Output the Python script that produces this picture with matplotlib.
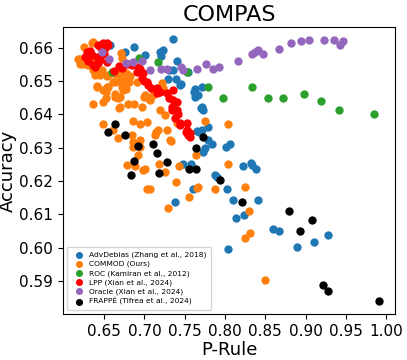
import matplotlib
matplotlib.use("Agg")
import matplotlib.pyplot as plt
import numpy as np

# P-Rule / Accuracy pairs
adv_x = [0.7349, 0.7192, 0.7233, 0.7210, 0.7006, 0.6869, 0.6757, 0.6571, 0.7407, 0.7307,
         0.7357, 0.7544, 0.7295, 0.7391, 0.7453, 0.7440, 0.7627, 0.7710, 0.7614, 0.7668,
         0.7627, 0.7710, 0.7722, 0.7701, 0.7655, 0.7710, 0.7792, 0.7680, 0.7792, 0.7834,
         0.7751, 0.7730, 0.8012, 0.8062, 0.7581, 0.7481, 0.8219, 0.8323, 0.8338, 0.8385,
         0.7875, 0.7904, 0.8021, 0.7606, 0.7378, 0.8095, 0.8413, 0.8132, 0.8239, 0.8600,
         0.8670, 0.8032, 0.8898, 0.9105, 0.9283]
adv_y = [0.6625, 0.6586, 0.6593, 0.6575, 0.6577, 0.6602, 0.6587, 0.6607, 0.6560, 0.6532,
         0.6534, 0.6528, 0.6505, 0.6505, 0.6490, 0.6488, 0.6477, 0.6482, 0.6467, 0.6458,
         0.6453, 0.6423, 0.6413, 0.6418, 0.6350, 0.6353, 0.6363, 0.6348, 0.6323, 0.6311,
         0.6298, 0.6288, 0.6303, 0.6311, 0.6251, 0.6251, 0.6245, 0.6255, 0.6248, 0.6235,
         0.6218, 0.6211, 0.6175, 0.6175, 0.6136, 0.6142, 0.6142, 0.6088, 0.6098, 0.6055,
         0.6051, 0.5996, 0.6001, 0.6016, 0.6038]

commod_x = [0.6177, 0.6198, 0.6198, 0.6240, 0.6282, 0.6345, 0.6303, 0.6247, 0.6343, 0.6363,
            0.6260, 0.6406, 0.6468, 0.6385, 0.6530, 0.6633, 0.6695, 0.6757, 0.6819, 0.6703,
            0.6716, 0.6674, 0.6707, 0.6777, 0.6446, 0.6550, 0.6363, 0.6446, 0.6612, 0.6633,
            0.6811, 0.6902, 0.7221, 0.6406, 0.6530, 0.6550, 0.6488, 0.6413, 0.6521, 0.6716,
            0.6770, 0.6719, 0.6777, 0.6728, 0.6633, 0.7233, 0.7006, 0.7047, 0.7109, 0.6633,
            0.6695, 0.6674, 0.6521, 0.6993, 0.6356, 0.6488, 0.6695, 0.6798, 0.6869, 0.6965,
            0.6686, 0.7068, 0.7192, 0.7254, 0.6860, 0.6943, 0.7027, 0.6488, 0.6604, 0.7751,
            0.8035, 0.7171, 0.7275, 0.7399, 0.6674, 0.6844, 0.6853, 0.6943, 0.7130, 0.7142,
            0.7316, 0.7324, 0.6860, 0.6944, 0.6922, 0.6885, 0.6778, 0.6977, 0.7009, 0.7639,
            0.8040, 0.7183, 0.7254, 0.7428, 0.7391, 0.7034, 0.7068, 0.7295, 0.7556, 0.7647,
            0.7668, 0.7875, 0.8247, 0.8301, 0.8310, 0.8247, 0.8496]
commod_y = [0.6565, 0.6550, 0.6567, 0.6551, 0.6558, 0.6563, 0.6548, 0.6603, 0.6613, 0.6617,
            0.6557, 0.6557, 0.6532, 0.6517, 0.6514, 0.6522, 0.6522, 0.6512, 0.6514, 0.6583,
            0.6570, 0.6528, 0.6510, 0.6523, 0.6518, 0.6518, 0.6533, 0.6530, 0.6497, 0.6498,
            0.6498, 0.6498, 0.6495, 0.6484, 0.6482, 0.6483, 0.6473, 0.6483, 0.6468, 0.6490,
            0.6477, 0.6483, 0.6488, 0.6473, 0.6462, 0.6478, 0.6458, 0.6448, 0.6458, 0.6453,
            0.6451, 0.6450, 0.6448, 0.6451, 0.6430, 0.6436, 0.6423, 0.6430, 0.6430, 0.6423,
            0.6418, 0.6443, 0.6413, 0.6398, 0.6380, 0.6370, 0.6378, 0.6370, 0.6353, 0.6380,
            0.6371, 0.6353, 0.6353, 0.6373, 0.6328, 0.6338, 0.6316, 0.6323, 0.6338, 0.6348,
            0.6323, 0.6320, 0.6303, 0.6303, 0.6278, 0.6246, 0.6248, 0.6233, 0.6235, 0.6278,
            0.6251, 0.6251, 0.6228, 0.6245, 0.6196, 0.6175, 0.6175, 0.6120, 0.6153, 0.6178,
            0.6181, 0.6175, 0.6181, 0.6110, 0.6045, 0.6028, 0.5903]

roc_x = [0.6600, 0.6930, 0.7170, 0.7523, 0.7790, 0.7978, 0.8330, 0.8537, 0.8715, 0.8985,
         0.9187, 0.9415, 0.9854]
roc_y = [0.6528, 0.6570, 0.6558, 0.6526, 0.6483, 0.6450, 0.6483, 0.6450, 0.6450, 0.6461,
         0.6440, 0.6413, 0.6401]

lpp_x = [0.6488, 0.6425, 0.6550, 0.6509, 0.6530, 0.6460, 0.6281, 0.6343, 0.6260, 0.6406,
         0.6447, 0.6363, 0.6530, 0.6300, 0.6320, 0.6384, 0.6420, 0.6500, 0.6624, 0.6716,
         0.6680, 0.6790, 0.6840, 0.6922, 0.6902, 0.6950, 0.6984, 0.6965, 0.7027, 0.7047,
         0.7000, 0.7080, 0.7151, 0.7192, 0.7150, 0.7275, 0.7357, 0.7357, 0.7399, 0.7337,
         0.7399, 0.7337, 0.7378, 0.7440, 0.7524, 0.7440, 0.7524, 0.7543, 0.7565, 0.7515,
         0.7565, 0.7420, 0.7300]
lpp_y = [0.6613, 0.6608, 0.6608, 0.6598, 0.6615, 0.6600, 0.6588, 0.6578, 0.6573, 0.6573,
         0.6563, 0.6548, 0.6558, 0.6560, 0.6590, 0.6543, 0.6555, 0.6580, 0.6530, 0.6538,
         0.6545, 0.6550, 0.6548, 0.6543, 0.6528, 0.6535, 0.6523, 0.6508, 0.6498, 0.6488,
         0.6500, 0.6480, 0.6478, 0.6468, 0.6463, 0.6463, 0.6473, 0.6443, 0.6438, 0.6423,
         0.6413, 0.6413, 0.6388, 0.6373, 0.6373, 0.6368, 0.6353, 0.6338, 0.6343, 0.6346,
         0.6333, 0.6400, 0.6450]

oracle_x = [0.6467, 0.6565, 0.6765, 0.6860, 0.6970, 0.7067, 0.7202, 0.7275, 0.7448, 0.7475,
            0.7647, 0.7770, 0.7855, 0.7930, 0.8156, 0.8330, 0.8372, 0.8413, 0.8475, 0.8672,
            0.8823, 0.8942, 0.9038, 0.9230, 0.9350, 0.9430, 0.9469]
oracle_y = [0.6586, 0.6565, 0.6554, 0.6556, 0.6559, 0.6533, 0.6537, 0.6537, 0.6543, 0.6532,
            0.6537, 0.6550, 0.6537, 0.6542, 0.6560, 0.6582, 0.6587, 0.6592, 0.6580, 0.6597,
            0.6614, 0.6619, 0.6624, 0.6624, 0.6624, 0.6607, 0.6619]

frappe_x = [0.6550, 0.6640, 0.6757, 0.6914, 0.6869, 0.6827, 0.7105, 0.7151, 0.7274, 0.7183,
            0.7552, 0.7635, 0.7643, 0.7730, 0.7937, 0.8210, 0.8790, 0.9084, 0.8927, 0.9212,
            0.9283, 0.9916]
frappe_y = [0.6348, 0.6370, 0.6337, 0.6305, 0.6261, 0.6219, 0.6310, 0.6283, 0.6256, 0.6224,
            0.6235, 0.6235, 0.6299, 0.6333, 0.6203, 0.6136, 0.6109, 0.6083, 0.6050, 0.5888,
            0.5871, 0.5839]

series = [
    (adv_x, adv_y, "tab:blue", "AdvDebias (Zhang et al., 2018)"),
    (commod_x, commod_y, "tab:orange", "COMMOD (Ours)"),
    (roc_x, roc_y, "tab:green", "ROC (Kamiran et al., 2012)"),
    (lpp_x, lpp_y, "red", "LPP (Xian et al., 2024)"),
    (oracle_x, oracle_y, "tab:purple", "Oracle (Xian et al., 2024)"),
    (frappe_x, frappe_y, "black", "FRAPPÉ (Tifrea et al., 2024)"),
]

fig, ax = plt.subplots(figsize=(4.07, 3.6), dpi=100)
fig.subplots_adjust(left=0.155, right=0.9705, top=0.925, bottom=0.128)
for x, y, c, lab in series:
    ax.scatter(x, y, s=36, color=c, label=lab, linewidths=0)

ax.set_xlim(0.599, 1.011)
ax.set_ylim(0.5801, 0.6662)
ax.set_xticks(np.arange(0.65, 1.001, 0.05))
ax.set_yticks(np.arange(0.59, 0.6601, 0.01))
ax.tick_params(labelsize=11)
ax.set_xlabel("P-Rule", fontsize=13, labelpad=2)
ax.set_ylabel("Accuracy", fontsize=13, labelpad=2)
ax.set_title("COMPAS", fontsize=16, pad=4)
ax.legend(loc="lower left", fontsize=5.4, handletextpad=0.3, borderpad=0.65,
          labelspacing=0.32, markerscale=0.85)
fig.savefig("out.png", dpi=100)
